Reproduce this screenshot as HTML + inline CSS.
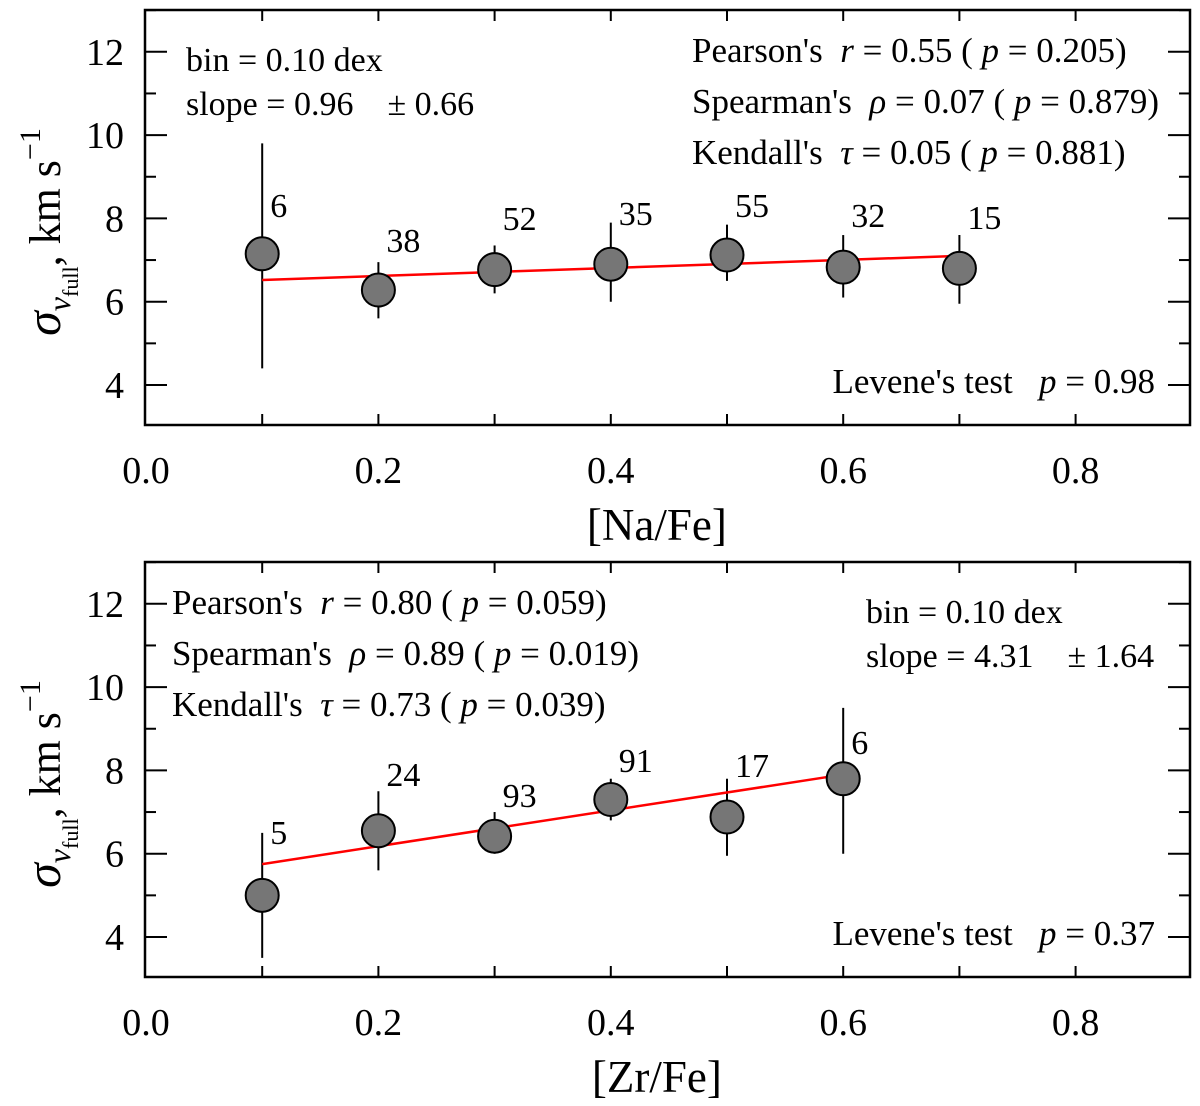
<!DOCTYPE html>
<html><head><meta charset="utf-8"><style>
body{margin:0;background:#fff}
svg{display:block;font-family:"Liberation Serif",serif}
</style></head><body>
<svg id="chart" width="1200" height="1106" viewBox="0 0 1200 1106" xmlns="http://www.w3.org/2000/svg"></svg>
<script>
// Panel 1: [Na/Fe]
const naX = [0.1,0.2,0.3,0.4,0.5,0.6,0.7];
const naY = [7.15,6.28,6.77,6.9,7.12,6.83,6.8];
const naLo = [4.4,5.6,6.2,6.0,6.5,6.1,5.95];
const naHi = [9.8,6.95,7.35,7.9,7.85,7.6,7.6];
const naN = ["6","38","52","35","55","32","15"];
const naNy = [8.32,7.48,8.01,8.13,8.32,8.08,8.03];
const naFit = [6.52,7.1];
// Panel 2: [Zr/Fe]
const zrX = [0.1,0.2,0.3,0.4,0.5,0.6];
const zrY = [5.0,6.55,6.42,7.3,6.88,7.8];
const zrLo = [3.5,5.6,6.0,6.8,5.95,6.0];
const zrHi = [6.5,7.5,7.0,7.8,7.8,9.5];
const zrN = ["5","24","93","91","17","6"];
const zrNy = [6.52,7.91,7.41,8.25,8.13,8.68];
const zrFit = [5.75,7.9];
const xTicks = ["0.0","0.2","0.4","0.6","0.8"];
const yTicks = [4,6,8,10,12];

const svg = document.getElementById('chart');
const NS = 'http://www.w3.org/2000/svg';
function mk(tag, attrs, parent){const e=document.createElementNS(NS,tag);for(const k in attrs)e.setAttribute(k,attrs[k]);(parent||svg).appendChild(e);return e;}

function panel(off, xs, ys, lo, hi, ns, nys, fit, xlabel, stats, statsX, binX, binTxt, lev, pname){
  const g = mk('g',{});
  
  
  const L=145,R=1190,T=10+off,B=425+off;
  const sx = v => 146 + v*1162;
  const sy = v => 385 + off - (v-4)*41.65;
  for(let v=3; v<=13; v++){
    const len = v%2===0 ? 22 : 11;
    const y=sy(v); if(y<T||y>B) continue;
    const t=mk('line',{x1:L,x2:L+len,y1:y,y2:y,stroke:'#000','stroke-width':2},g);
     
    const t2=mk('line',{x1:R,x2:R-len,y1:y,y2:y,stroke:'#000','stroke-width':2},g);
     
  }
  for(let i=1;i<=8;i++){
    const x=sx(i/10);
    const t=mk('line',{x1:x,x2:x,y1:B,y2:B-11,stroke:'#000','stroke-width':2},g);
     
    const t2=mk('line',{x1:x,x2:x,y1:T,y2:T+11,stroke:'#000','stroke-width':2},g);
     
  }
  const box=mk('rect',{x:L,y:T,width:R-L,height:B-T,fill:'none',stroke:'#000','stroke-width':2.5},g);
   
  yTicks.forEach(v=>{
    const t=mk('text',{x:124,y:sy(v)+13,'text-anchor':'end','font-size':38},g); t.textContent=v;
     
  });
  xTicks.forEach(s=>{
    const t=mk('text',{x:sx(parseFloat(s)),y:B+58,'text-anchor':'middle','font-size':38},g); t.textContent=s;
     
  });
  const xl=mk('text',{x:sx(0.45)-12,y:B+115,'text-anchor':'middle','font-size':45},g); xl.textContent=xlabel;
   
  const yl=mk('text',{transform:`translate(60,${off+232}) rotate(-90)`,'text-anchor':'middle','font-size':44},g);
   
  yl.innerHTML='<tspan font-style="italic" font-size="50">σ</tspan><tspan font-style="italic" font-size="32" dy="10">v</tspan><tspan font-size="22" dy="8">full</tspan><tspan dy="-18">, km s</tspan><tspan font-size="30" dy="-20">−1</tspan>';
  xs.forEach((x,i)=>{
    const e=mk('line',{x1:sx(x),x2:sx(x),y1:sy(lo[i]),y2:sy(hi[i]),stroke:'#000','stroke-width':2},g);
     
  });
  const fl=mk('line',{x1:sx(xs[0]),x2:sx(xs[xs.length-1]),y1:sy(fit[0]),y2:sy(fit[1]),stroke:'#f00','stroke-width':2.5},g);
   
  xs.forEach((x,i)=>{
    const c=mk('circle',{cx:sx(x),cy:sy(ys[i]),r:16.5,fill:'#767676',stroke:'#000','stroke-width':2},g);
     
    const t=mk('text',{x:sx(x)+8,y:sy(nys[i])+12,'font-size':34},g); t.textContent=ns[i];
     
  });
  stats.forEach((s,i)=>{
    const t=mk('text',{x:statsX,y:T+52+i*51,'font-size':35},g); t.innerHTML=s;
     
  });
  const b1=mk('text',{x:binX,y:T+61,'font-size':34},g); b1.textContent=binTxt[0];
   
  const b2=mk('text',{x:binX,y:T+105,'font-size':34},g); b2.textContent=binTxt[1];
   
  const lv=mk('text',{x:1155,y:B-32,'text-anchor':'end','font-size':35},g); lv.innerHTML=lev;
   
}
panel(0,naX,naY,naLo,naHi,naN,naNy,naFit,'[Na/Fe]',[
 "Pearson's&#160; <tspan font-style='italic'>r</tspan> = 0.55 ( <tspan font-style='italic'>p</tspan> = 0.205)",
 "Spearman's&#160; <tspan font-style='italic'>ρ</tspan> = 0.07 ( <tspan font-style='italic'>p</tspan> = 0.879)",
 "Kendall's&#160; <tspan font-style='italic'>τ</tspan> = 0.05 ( <tspan font-style='italic'>p</tspan> = 0.881)"],692,186,
 ['bin = 0.10 dex','slope = 0.96\u00a0\u00a0\u00a0 ± 0.66'],"Levene's test&#160;&#160; <tspan font-style='italic'>p</tspan> = 0.98",'panel-na-fe');
panel(552,zrX,zrY,zrLo,zrHi,zrN,zrNy,zrFit,'[Zr/Fe]',[
 "Pearson's&#160; <tspan font-style='italic'>r</tspan> = 0.80 ( <tspan font-style='italic'>p</tspan> = 0.059)",
 "Spearman's&#160; <tspan font-style='italic'>ρ</tspan> = 0.89 ( <tspan font-style='italic'>p</tspan> = 0.019)",
 "Kendall's&#160; <tspan font-style='italic'>τ</tspan> = 0.73 ( <tspan font-style='italic'>p</tspan> = 0.039)"],172,866,
 ['bin = 0.10 dex','slope = 4.31\u00a0\u00a0\u00a0 ± 1.64'],"Levene's test&#160;&#160; <tspan font-style='italic'>p</tspan> = 0.37",'panel-zr-fe');
</script>
</body></html>
